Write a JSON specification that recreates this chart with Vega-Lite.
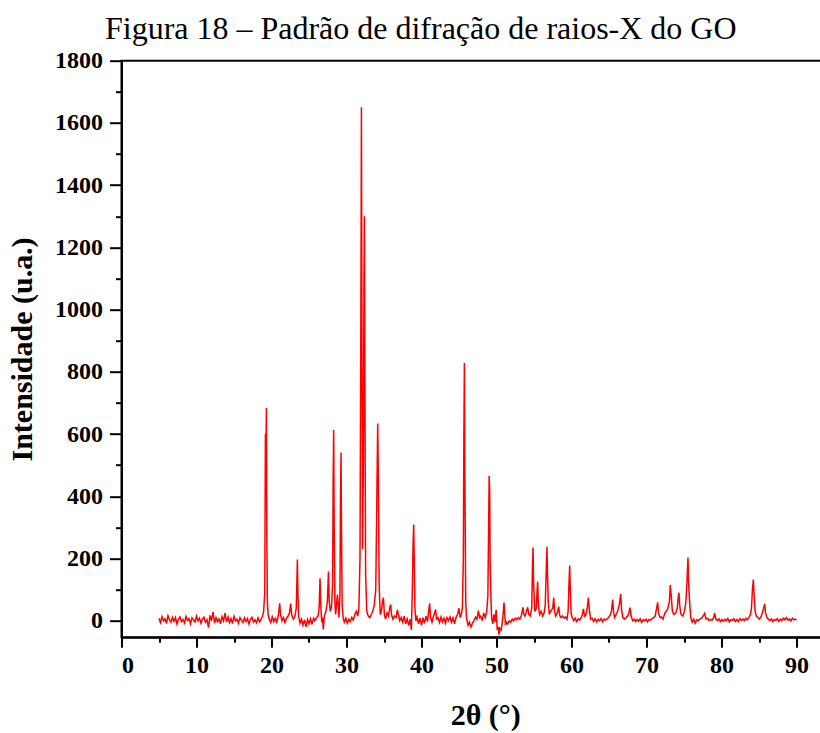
{
  "$schema": "https://vega.github.io/schema/vega-lite/v6.json",
  "autosize": "none",
  "padding": {"left": 121.5, "top": 60.7, "right": 0, "bottom": 96},
  "width": 727.5,
  "height": 576.5,
  "background": "white",
  "config": {
    "view": {"stroke": "black", "strokeWidth": 2},
    "font": "Liberation Serif"
  },
  "title": {
    "text": "Figura 18 – Padrão de difração de raios-X do GO",
    "font": "Liberation Serif",
    "fontSize": 32,
    "fontWeight": "normal",
    "color": "black",
    "anchor": "start",
    "frame": "group",
    "dx": -16.5,
    "offset": 3
  },
  "data": {"values": [
    {"x":5.0,"y":8},{"x":5.2,"y":-6},{"x":5.4,"y":13},{"x":5.6,"y":0},{"x":5.8,"y":6},{"x":6.0,"y":-9},{"x":6.2,"y":16},{"x":6.4,"y":3},{"x":6.6,"y":-5},{"x":6.8,"y":11},
    {"x":7.0,"y":-2},{"x":7.2,"y":10},{"x":7.4,"y":-11},{"x":7.6,"y":5},{"x":7.8,"y":12},{"x":8.0,"y":-3},{"x":8.2,"y":4},{"x":8.4,"y":-7},{"x":8.6,"y":14},{"x":8.8,"y":1},
    {"x":9.0,"y":7},{"x":9.2,"y":-10},{"x":9.4,"y":9},{"x":9.6,"y":2},{"x":9.8,"y":-4},{"x":10.0,"y":15},{"x":10.2,"y":-1},{"x":10.4,"y":8},{"x":10.6,"y":-8},{"x":10.8,"y":6},
    {"x":11.0,"y":11},{"x":11.2,"y":-5},{"x":11.4,"y":3},{"x":11.6,"y":-22},{"x":11.8,"y":17},{"x":12.0,"y":0},{"x":12.2,"y":28},{"x":12.4,"y":-7},{"x":12.6,"y":10},{"x":12.8,"y":-3},
    {"x":13.0,"y":6},{"x":13.2,"y":-10},{"x":13.4,"y":13},{"x":13.6,"y":0},{"x":13.8,"y":24},{"x":14.0,"y":-4},{"x":14.2,"y":12},{"x":14.4,"y":-6},{"x":14.6,"y":7},{"x":14.8,"y":-9},
    {"x":15.0,"y":14},{"x":15.2,"y":-1},{"x":15.4,"y":5},{"x":15.6,"y":-8},{"x":15.8,"y":10},{"x":16.0,"y":2},{"x":16.2,"y":-6},{"x":16.4,"y":9},{"x":16.6,"y":-3},{"x":16.8,"y":7},
    {"x":17.0,"y":-11},{"x":17.2,"y":5},{"x":17.4,"y":11},{"x":17.6,"y":-5},{"x":17.8,"y":3},{"x":18.0,"y":-7},{"x":18.2,"y":9},{"x":18.4,"y":-4},{"x":18.6,"y":5},{"x":18.8,"y":14},
    {"x":18.95,"y":30},{"x":19.1,"y":90},{"x":19.19,"y":600},{"x":19.25,"y":520},{"x":19.32,"y":684},{"x":19.38,"y":250},{"x":19.45,"y":60},{"x":19.55,"y":20},{"x":19.7,"y":5},{"x":19.9,"y":-6},
    {"x":20.1,"y":12},{"x":20.3,"y":-3},{"x":20.5,"y":8},{"x":20.7,"y":-5},{"x":20.9,"y":15},{"x":21.0,"y":35},{"x":21.09,"y":56},{"x":21.2,"y":20},{"x":21.4,"y":0},{"x":21.6,"y":10},
    {"x":21.8,"y":-6},{"x":22.0,"y":8},{"x":22.2,"y":14},{"x":22.4,"y":25},{"x":22.56,"y":55},{"x":22.7,"y":18},{"x":22.9,"y":5},{"x":23.1,"y":12},{"x":23.3,"y":40},{"x":23.38,"y":120},
    {"x":23.45,"y":197},{"x":23.52,"y":90},{"x":23.62,"y":15},{"x":23.8,"y":-8},{"x":24.0,"y":5},{"x":24.2,"y":-14},{"x":24.4,"y":3},{"x":24.6,"y":-20},{"x":24.8,"y":4},{"x":25.0,"y":-10},
    {"x":25.2,"y":6},{"x":25.4,"y":-12},{"x":25.6,"y":8},{"x":25.8,"y":0},{"x":26.0,"y":10},{"x":26.2,"y":15},{"x":26.35,"y":40},{"x":26.47,"y":136},{"x":26.58,"y":45},{"x":26.7,"y":-5},
    {"x":26.8,"y":10},{"x":26.9,"y":-28},{"x":27.05,"y":15},{"x":27.25,"y":30},{"x":27.45,"y":60},{"x":27.59,"y":158},{"x":27.7,"y":60},{"x":27.85,"y":30},{"x":28.0,"y":45},{"x":28.15,"y":120},
    {"x":28.22,"y":450},{"x":28.29,"y":613},{"x":28.36,"y":300},{"x":28.45,"y":60},{"x":28.55,"y":20},{"x":28.65,"y":45},{"x":28.79,"y":84},{"x":28.9,"y":50},{"x":29.0,"y":10},{"x":29.12,"y":80},
    {"x":29.2,"y":400},{"x":29.27,"y":541},{"x":29.33,"y":300},{"x":29.42,"y":50},{"x":29.55,"y":10},{"x":29.7,"y":-5},{"x":29.9,"y":8},{"x":30.1,"y":-8},{"x":30.3,"y":5},{"x":30.5,"y":-3},
    {"x":30.7,"y":10},{"x":30.9,"y":2},{"x":31.1,"y":20},{"x":31.3,"y":30},{"x":31.5,"y":15},{"x":31.65,"y":40},{"x":31.8,"y":200},{"x":31.92,"y":1000},{"x":31.99,"y":1650},{"x":32.06,"y":900},
    {"x":32.14,"y":230},{"x":32.25,"y":500},{"x":32.33,"y":1100},{"x":32.39,"y":1300},{"x":32.46,"y":700},{"x":32.55,"y":150},{"x":32.7,"y":30},{"x":32.9,"y":15},{"x":33.1,"y":10},{"x":33.3,"y":20},
    {"x":33.5,"y":30},{"x":33.7,"y":50},{"x":33.9,"y":100},{"x":34.05,"y":400},{"x":34.16,"y":634},{"x":34.25,"y":450},{"x":34.35,"y":120},{"x":34.5,"y":20},{"x":34.65,"y":30},{"x":34.8,"y":60},
    {"x":34.92,"y":74},{"x":35.05,"y":20},{"x":35.2,"y":5},{"x":35.4,"y":25},{"x":35.6,"y":15},{"x":35.75,"y":40},{"x":35.89,"y":52},{"x":36.0,"y":20},{"x":36.2,"y":5},{"x":36.4,"y":15},
    {"x":36.6,"y":10},{"x":36.79,"y":35},{"x":36.95,"y":15},{"x":37.1,"y":0},{"x":37.3,"y":10},{"x":37.5,"y":-5},{"x":37.7,"y":15},{"x":37.9,"y":-10},{"x":38.1,"y":5},{"x":38.3,"y":-15},
    {"x":38.5,"y":5},{"x":38.65,"y":-30},{"x":38.78,"y":100},{"x":38.88,"y":250},{"x":38.96,"y":309},{"x":39.03,"y":200},{"x":39.12,"y":40},{"x":39.25,"y":0},{"x":39.4,"y":12},{"x":39.6,"y":-10},
    {"x":39.8,"y":8},{"x":40.0,"y":-15},{"x":40.2,"y":10},{"x":40.4,"y":-8},{"x":40.6,"y":15},{"x":40.8,"y":-3},{"x":40.95,"y":30},{"x":41.09,"y":56},{"x":41.2,"y":10},{"x":41.4,"y":-5},
    {"x":41.6,"y":15},{"x":41.75,"y":25},{"x":41.89,"y":36},{"x":42.0,"y":5},{"x":42.2,"y":10},{"x":42.4,"y":-6},{"x":42.6,"y":12},{"x":42.8,"y":-4},{"x":43.0,"y":8},{"x":43.2,"y":-8},
    {"x":43.4,"y":10},{"x":43.6,"y":0},{"x":43.8,"y":12},{"x":44.0,"y":-5},{"x":44.2,"y":9},{"x":44.4,"y":-10},{"x":44.6,"y":10},{"x":44.8,"y":20},{"x":45.0,"y":40},{"x":45.15,"y":10},
    {"x":45.3,"y":20},{"x":45.45,"y":40},{"x":45.58,"y":200},{"x":45.65,"y":600},{"x":45.72,"y":828},{"x":45.8,"y":400},{"x":45.9,"y":60},{"x":46.0,"y":10},{"x":46.2,"y":-15},{"x":46.4,"y":-5},
    {"x":46.6,"y":-20},{"x":46.8,"y":-8},{"x":47.0,"y":0},{"x":47.2,"y":12},{"x":47.4,"y":5},{"x":47.59,"y":32},{"x":47.75,"y":10},{"x":47.9,"y":15},{"x":48.1,"y":0},{"x":48.3,"y":25},
    {"x":48.5,"y":10},{"x":48.7,"y":30},{"x":48.85,"y":80},{"x":48.95,"y":300},{"x":49.02,"y":465},{"x":49.09,"y":420},{"x":49.15,"y":190},{"x":49.25,"y":80},{"x":49.35,"y":10},{"x":49.5,"y":-10},
    {"x":49.65,"y":20},{"x":49.8,"y":-5},{"x":49.95,"y":35},{"x":50.1,"y":-30},{"x":50.25,"y":-20},{"x":50.33,"y":-45},{"x":50.45,"y":-25},{"x":50.6,"y":-30},{"x":50.75,"y":-10},{"x":50.88,"y":20},
    {"x":51.0,"y":58},{"x":51.1,"y":20},{"x":51.2,"y":-15},{"x":51.35,"y":-5},{"x":51.5,"y":-10},{"x":51.7,"y":0},{"x":51.9,"y":-5},{"x":52.1,"y":5},{"x":52.3,"y":0},{"x":52.5,"y":8},
    {"x":52.7,"y":3},{"x":52.9,"y":10},{"x":53.1,"y":5},{"x":53.3,"y":15},{"x":53.53,"y":43},{"x":53.65,"y":20},{"x":53.8,"y":15},{"x":54.0,"y":30},{"x":54.16,"y":43},{"x":54.3,"y":20},
    {"x":54.5,"y":15},{"x":54.7,"y":40},{"x":54.8,"y":180},{"x":54.87,"y":235},{"x":54.95,"y":120},{"x":55.1,"y":30},{"x":55.3,"y":40},{"x":55.42,"y":100},{"x":55.49,"y":126},{"x":55.58,"y":50},
    {"x":55.75,"y":20},{"x":55.95,"y":30},{"x":56.15,"y":15},{"x":56.35,"y":25},{"x":56.5,"y":50},{"x":56.6,"y":136},{"x":56.73,"y":238},{"x":56.8,"y":150},{"x":56.9,"y":60},{"x":57.05,"y":20},
    {"x":57.2,"y":30},{"x":57.5,"y":40},{"x":57.63,"y":74},{"x":57.75,"y":30},{"x":57.9,"y":15},{"x":58.1,"y":25},{"x":58.29,"y":45},{"x":58.45,"y":15},{"x":58.6,"y":10},{"x":58.8,"y":15},
    {"x":59.0,"y":8},{"x":59.2,"y":12},{"x":59.4,"y":5},{"x":59.55,"y":30},{"x":59.68,"y":130},{"x":59.76,"y":177},{"x":59.84,"y":100},{"x":59.95,"y":25},{"x":60.1,"y":10},{"x":60.3,"y":0},
    {"x":60.5,"y":8},{"x":60.7,"y":-3},{"x":60.9,"y":6},{"x":61.1,"y":2},{"x":61.3,"y":10},{"x":61.45,"y":20},{"x":61.59,"y":38},{"x":61.75,"y":15},{"x":61.95,"y":20},{"x":62.1,"y":40},
    {"x":62.25,"y":74},{"x":62.38,"y":35},{"x":62.55,"y":5},{"x":62.75,"y":8},{"x":62.95,"y":-2},{"x":63.15,"y":6},{"x":63.35,"y":-4},{"x":63.55,"y":5},{"x":63.75,"y":0},{"x":63.95,"y":7},
    {"x":64.15,"y":-3},{"x":64.35,"y":5},{"x":64.55,"y":2},{"x":64.75,"y":6},{"x":64.95,"y":10},{"x":65.2,"y":20},{"x":65.35,"y":35},{"x":65.49,"y":68},{"x":65.6,"y":30},{"x":65.75,"y":10},
    {"x":65.95,"y":20},{"x":66.15,"y":30},{"x":66.4,"y":55},{"x":66.56,"y":86},{"x":66.68,"y":35},{"x":66.85,"y":10},{"x":67.05,"y":5},{"x":67.3,"y":10},{"x":67.5,"y":15},{"x":67.65,"y":25},
    {"x":67.8,"y":42},{"x":67.95,"y":15},{"x":68.15,"y":0},{"x":68.35,"y":5},{"x":68.55,"y":-3},{"x":68.75,"y":4},{"x":68.95,"y":-1},{"x":69.15,"y":6},{"x":69.35,"y":-5},{"x":69.55,"y":3},
    {"x":69.75,"y":0},{"x":69.95,"y":5},{"x":70.15,"y":-4},{"x":70.35,"y":4},{"x":70.55,"y":2},{"x":70.75,"y":7},{"x":70.95,"y":10},{"x":71.15,"y":15},{"x":71.35,"y":40},{"x":71.49,"y":59},
    {"x":71.6,"y":25},{"x":71.8,"y":10},{"x":72.0,"y":12},{"x":72.2,"y":5},{"x":72.45,"y":25},{"x":72.65,"y":30},{"x":72.85,"y":40},{"x":73.05,"y":60},{"x":73.17,"y":115},{"x":73.3,"y":80},
    {"x":73.45,"y":30},{"x":73.65,"y":20},{"x":73.9,"y":25},{"x":74.1,"y":40},{"x":74.25,"y":80},{"x":74.33,"y":90},{"x":74.42,"y":50},{"x":74.6,"y":20},{"x":74.85,"y":15},{"x":75.05,"y":30},
    {"x":75.25,"y":60},{"x":75.4,"y":126},{"x":75.53,"y":203},{"x":75.62,"y":120},{"x":75.75,"y":60},{"x":75.9,"y":10},{"x":76.1,"y":-5},{"x":76.3,"y":5},{"x":76.5,"y":-8},{"x":76.7,"y":3},
    {"x":76.9,"y":0},{"x":77.1,"y":5},{"x":77.35,"y":8},{"x":77.55,"y":15},{"x":77.76,"y":24},{"x":77.95,"y":5},{"x":78.15,"y":8},{"x":78.35,"y":0},{"x":78.55,"y":4},{"x":78.75,"y":2},
    {"x":78.95,"y":10},{"x":79.09,"y":24},{"x":79.25,"y":5},{"x":79.45,"y":0},{"x":79.65,"y":6},{"x":79.85,"y":-3},{"x":80.05,"y":4},{"x":80.25,"y":-2},{"x":80.45,"y":5},{"x":80.65,"y":0},
    {"x":80.85,"y":7},{"x":81.05,"y":-4},{"x":81.25,"y":3},{"x":81.45,"y":1},{"x":81.65,"y":6},{"x":81.85,"y":-2},{"x":82.05,"y":4},{"x":82.25,"y":-3},{"x":82.45,"y":7},{"x":82.65,"y":1},
    {"x":82.85,"y":5},{"x":83.05,"y":0},{"x":83.25,"y":8},{"x":83.45,"y":3},{"x":83.65,"y":10},{"x":83.85,"y":20},{"x":84.0,"y":40},{"x":84.12,"y":100},{"x":84.25,"y":132},{"x":84.35,"y":80},
    {"x":84.48,"y":30},{"x":84.65,"y":15},{"x":84.85,"y":10},{"x":85.05,"y":5},{"x":85.25,"y":12},{"x":85.45,"y":25},{"x":85.62,"y":40},{"x":85.76,"y":54},{"x":85.88,"y":25},{"x":86.05,"y":10},
    {"x":86.25,"y":5},{"x":86.45,"y":0},{"x":86.65,"y":6},{"x":86.85,"y":-3},{"x":87.05,"y":4},{"x":87.25,"y":1},{"x":87.45,"y":7},{"x":87.65,"y":-2},{"x":87.85,"y":5},{"x":88.05,"y":0},
    {"x":88.25,"y":8},{"x":88.45,"y":3},{"x":88.65,"y":10},{"x":88.85,"y":2},{"x":89.05,"y":6},{"x":89.25,"y":-1},{"x":89.45,"y":8},{"x":89.65,"y":3},{"x":89.85,"y":5},{"x":90.0,"y":2}
  ]},
  "layer": [
    {
      "mark": {"type": "line", "color": "#ff0000", "strokeWidth": 1.5},
      "encoding": {
        "x": {"field": "x", "type": "quantitative", "scale": {"domain": [0, 97], "nice": false, "zero": false},
          "axis": {"orient": "bottom", "values": [0,10,20,30,40,50,60,70,80,90], "format": "d", "title": "2θ (°)", "grid": false,
            "domainColor": "black", "domainWidth": 2, "tickColor": "black", "tickWidth": 2, "tickSize": 10,
            "labelFont": "Liberation Serif", "labelFontSize": 24, "labelFontWeight": "bold", "labelColor": "black", "labelPadding": 6,
            "titleFont": "Liberation Serif", "titleFontSize": 30, "titleFontWeight": "bold", "titleColor": "black", "titlePadding": 23}},
        "y": {"field": "y", "type": "quantitative", "scale": {"domain": [-53, 1800], "nice": false, "zero": false},
          "axis": {"orient": "left", "values": [0,200,400,600,800,1000,1200,1400,1600,1800], "format": "d", "title": "Intensidade (u.a.)", "grid": false,
            "domainColor": "black", "domainWidth": 2, "tickColor": "black", "tickWidth": 2, "tickSize": 12,
            "labelFont": "Liberation Serif", "labelFontSize": 24, "labelFontWeight": "bold", "labelColor": "black", "labelPadding": 7,
            "titleFont": "Liberation Serif", "titleFontSize": 30, "titleFontWeight": "bold", "titleColor": "black", "titlePadding": 17}}
      }
    },
    {
      "mark": {"type": "line", "opacity": 0},
      "encoding": {
        "x": {"field": "x", "type": "quantitative",
          "axis": {"orient": "bottom", "values": [5,15,25,35,45,55,65,75,85,95], "title": null, "labels": false, "domain": false, "grid": false,
            "tickColor": "black", "tickWidth": 2, "tickSize": 5}},
        "y": {"field": "y", "type": "quantitative",
          "axis": {"orient": "left", "values": [100,300,500,700,900,1100,1300,1500,1700], "title": null, "labels": false, "domain": false, "grid": false,
            "tickColor": "black", "tickWidth": 2, "tickSize": 6}}
      }
    }
  ],
  "resolve": {"axis": {"x": "independent", "y": "independent"}}
}
